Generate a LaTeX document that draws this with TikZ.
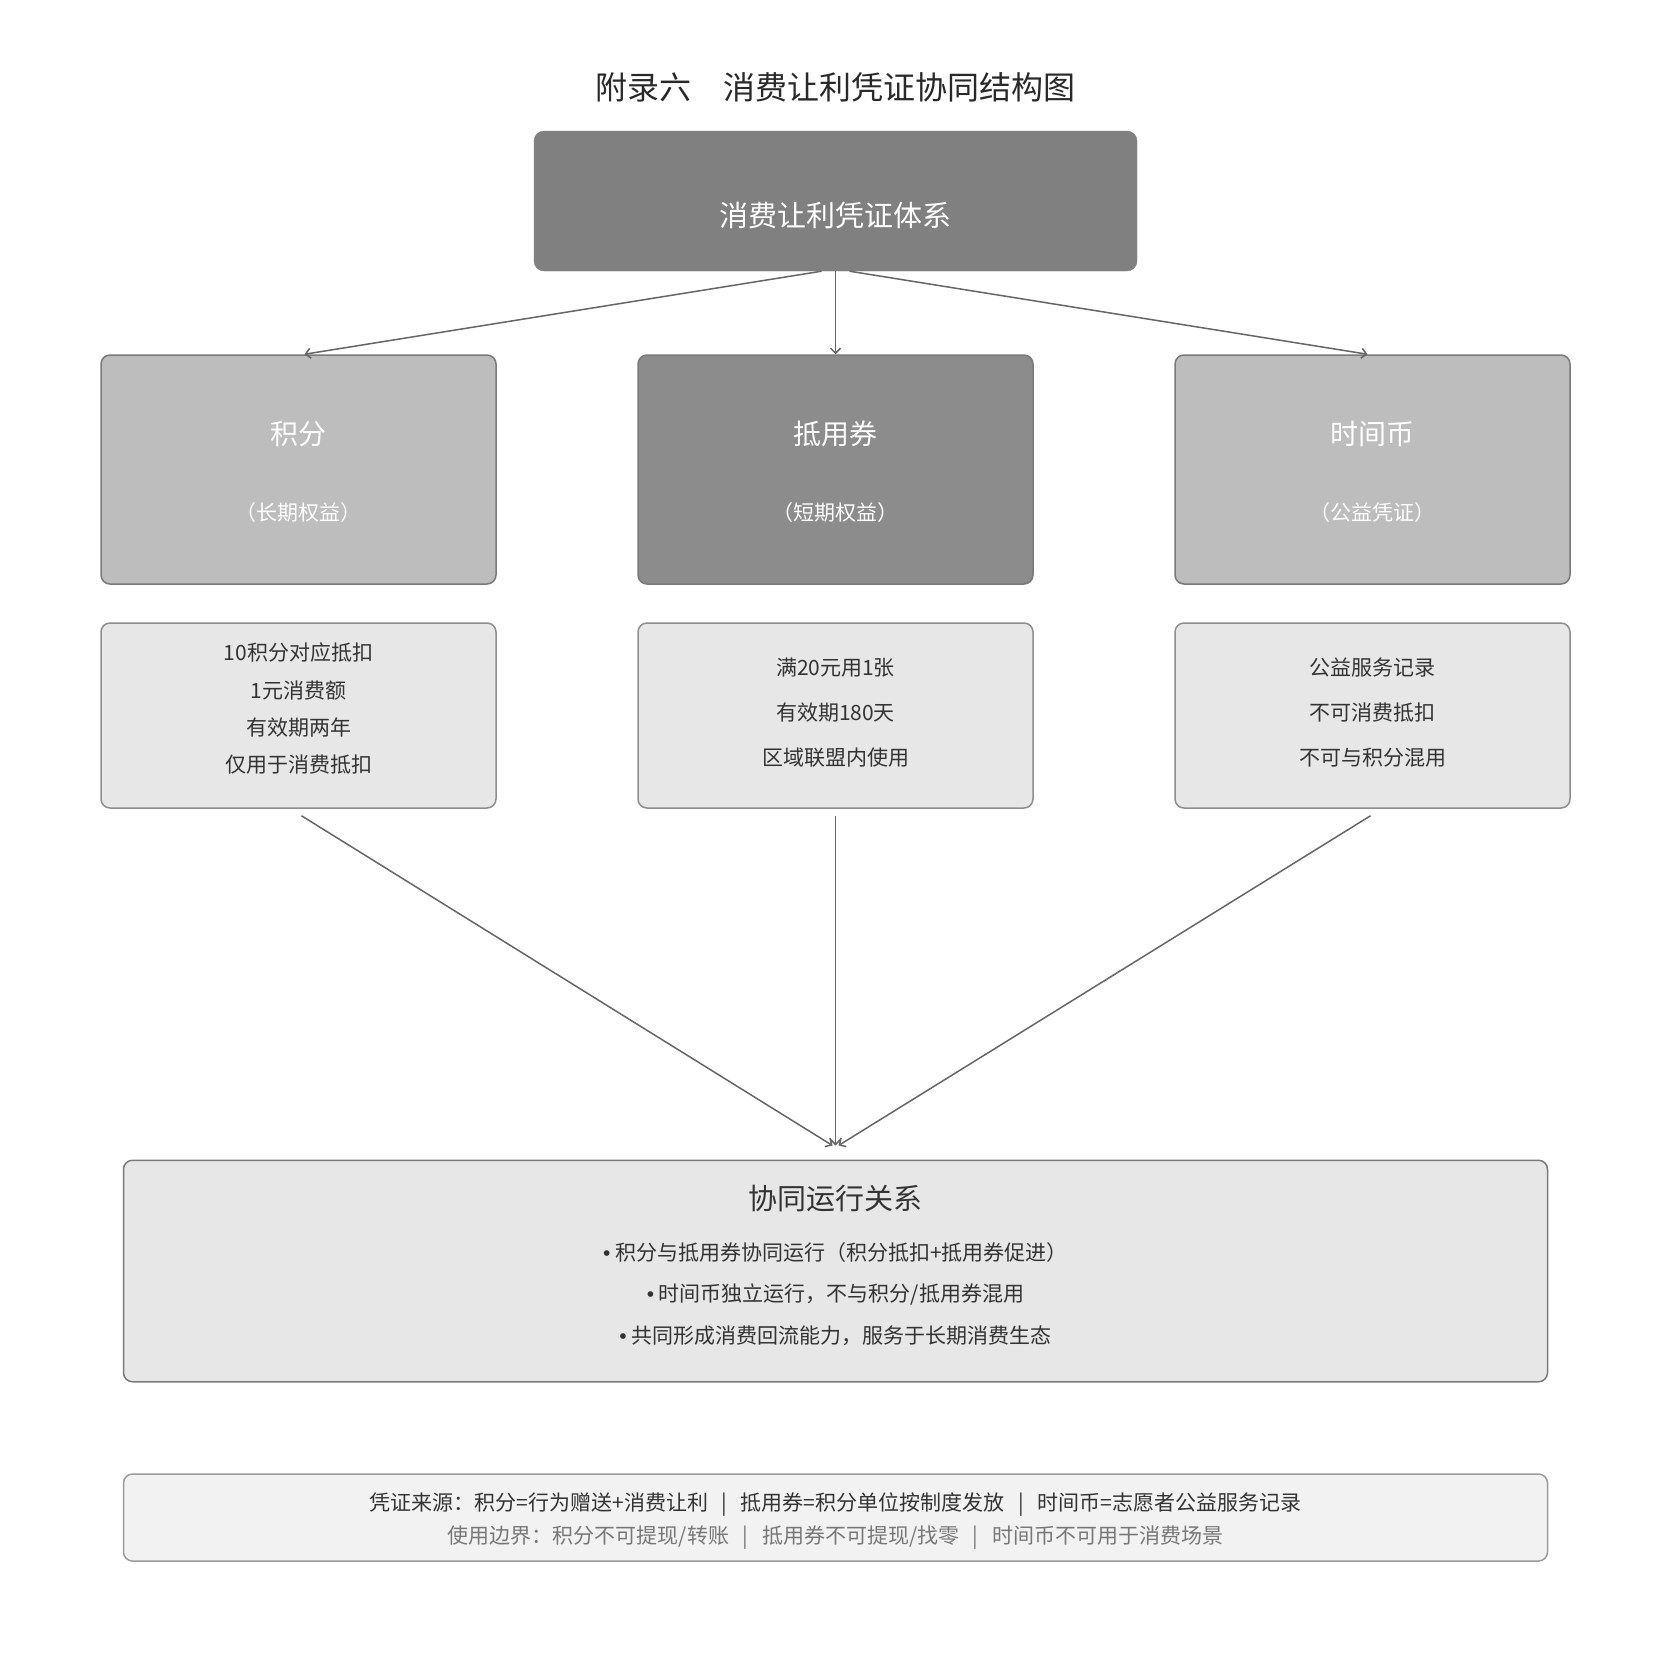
\documentclass[tikz,border=0pt]{standalone}
\usepackage{fontspec}
\setmainfont{Noto Sans CJK SC}
\newfontfamily\dotfont{Liberation Sans}
\usepackage{xcolor,tikz}
\usetikzlibrary{arrows.meta,positioning,calc}
\definecolor{ink}{HTML}{333333}
\definecolor{dim}{HTML}{777777}
\definecolor{core}{HTML}{808080}
\definecolor{side}{HTML}{BDBDBD}
\definecolor{mid}{HTML}{8C8C8C}
\definecolor{frame}{HTML}{7A7A7A}
\definecolor{pale}{HTML}{E7E7E7}
\definecolor{note}{HTML}{F2F2F2}
\definecolor{wire}{HTML}{666666}
\newcommand{\dotitem}{{\dotfont •}\ }
\newcommand{\sepbar}{\hspace{0.65em}|\hspace{0.65em}}
\tikzset{corebox/.style={fill=core,draw=core,rounded corners=10pt,minimum width=603pt,
  minimum height=140pt,text=white,font=\fontsize{29}{35}\selectfont,text height=50pt,text depth=0pt},
  kind/.style={draw=frame,line width=1.5pt,rounded corners=9pt,minimum width=395pt,minimum height=229pt},
  kindhead/.style={text=white,font=\fontsize{28}{34}\selectfont},
  kindsub/.style={text=white,font=\fontsize{21}{26}\selectfont},
  info/.style={draw=frame!85,fill=pale,line width=1.5pt,rounded corners=9pt,minimum width=395pt,
  minimum height=185pt,align=center,text=ink},
  wide/.style={draw=frame,line width=1.5pt,rounded corners=9pt,minimum width=1424pt,align=center,text=ink},
  link/.style={-{Straight Barb[length=5pt,width=10pt]},line width=1.5pt,draw=wire}}

\begin{document}
\begin{tikzpicture}[x=1pt,y=-1pt]
\useasboundingbox (0,0) rectangle (1671,1671);
\fill[white] (0,0) rectangle (1671,1671);
\node[text=ink!80!black,font=\fontsize{32}{38}\selectfont] (title) at (835.5,87) {附录六　消费让利凭证协同结构图};
\node[corebox] (sys) at (835.5,201) {消费让利凭证体系};
% three kinds of voucher
\foreach \x/\shade/\head/\sub/\gap/\dep/\lines [count=\i] in {
  298.5/side/积分/长期权益/37.3/15/{10积分对应抵扣\\1元消费额\\有效期两年\\仅用于消费抵扣},
  835.5/mid/抵用券/短期权益/45/8/{满20元用1张\\有效期180天\\区域联盟内使用},
  1372.5/side/时间币/公益凭证/45/8/{公益服务记录\\不可消费抵扣\\不可与积分混用}}{
  \node[kind,fill=\shade] (k\i) at (\x,469.5) {};
  \node[kindhead] (h\i) at (\x,434) {\head};
  \node[kindsub] (s\i) at (\x,513) {（\sub）};
  \node[info,font=\fontsize{21}{\gap}\selectfont,text depth=\dep pt] (d\i) at (\x,715.5) {\lines};
}
\foreach \i/\a/\b in {1/-14/6,2/0/0,3/14/-5}
  \draw[link] ([xshift=\a pt]sys.south) -- ([xshift=\b pt]k\i.north);
% synergy
\node[wide,fill=pale,minimum height=221.5pt] (syn) at (835.5,1271) {};
\node[text=ink,font=\fontsize{29}{35}\selectfont] (synhead) at (835.5,1199) {协同运行关系};
\node[text=ink,align=center,font=\fontsize{21}{41.5}\selectfont] (synbody) at (835.5,1294)
  {\dotitem 积分与抵用券协同运行（积分抵扣+抵用券促进）\\\dotitem 时间币独立运行，不与积分/抵用券混用\\\dotitem 共同形成消费回流能力，服务于长期消费生态};
\foreach \i/\a/\b in {1/3/-3,2/0/0,3/-2/3}
  \draw[link] ([xshift=\a pt,yshift=-7pt]d\i.south) -- ([xshift=\b pt,yshift=14pt]syn.north);
% sources and limits
\node[wide,draw=frame!75,fill=note,minimum height=87pt,font=\fontsize{21}{33}\selectfont,text height=58pt] (src) at (835.5,1517.5)
  {凭证来源：积分=行为赠送+消费让利\sepbar 抵用券=积分单位按制度发放\sepbar 时间币=志愿者公益服务记录\\
   \textcolor{dim}{使用边界：积分不可提现/转账\sepbar 抵用券不可提现/找零\sepbar 时间币不可用于消费场景}};
\end{tikzpicture}
\end{document}
